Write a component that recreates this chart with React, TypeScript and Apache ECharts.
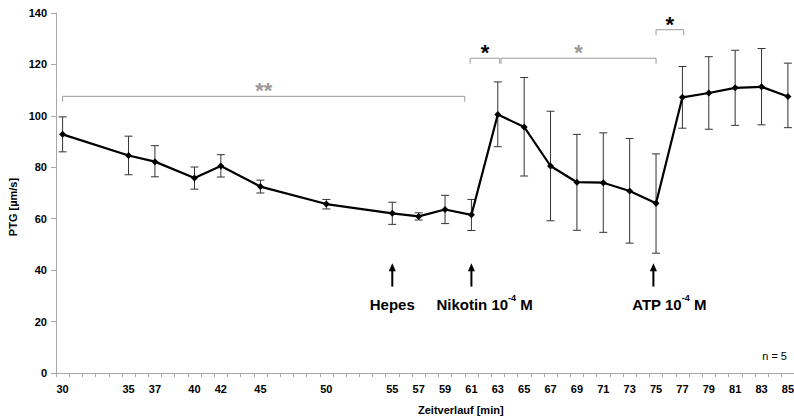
import React, { useEffect, useRef } from "react";
import * as echarts from "echarts";

// Time points (min) and PTG values (µm/s)
const times = [30, 35, 37, 40, 42, 45, 50, 55, 57, 59, 61, 63, 65, 67, 69, 71, 73, 75, 77, 79, 81, 83, 85];
const means = [92.8, 84.6, 82.2, 75.8, 80.5, 72.5, 65.7, 62.1, 60.9, 63.6, 61.5, 100.5, 95.7, 80.5, 74.2, 74.0, 70.8, 66.0, 107.2, 108.9, 110.9, 111.3, 107.5];
const upper = [99.6, 92.1, 88.4, 80.1, 84.9, 75.0, 67.5, 66.4, 62.3, 69.1, 67.5, 113.2, 114.9, 101.8, 92.8, 93.4, 91.2, 85.2, 119.2, 123.0, 125.5, 126.2, 120.5];
const lower = [86.0, 77.1, 76.3, 71.5, 76.2, 70.0, 63.8, 57.8, 59.5, 58.1, 55.4, 88.0, 76.6, 59.2, 55.5, 54.7, 50.5, 46.6, 95.2, 94.8, 96.3, 96.5, 95.4];

// Labeled x ticks
const xTickLabels = [30, 35, 37, 40, 42, 45, 50, 55, 57, 59, 61, 63, 65, 67, 69, 71, 73, 75, 77, 79, 81, 83, 85];

// Significance brackets
const bracketFrom = [30, 60.9, 63.25, 75.0];
const bracketTo = [60.5, 63.15, 75.0, 77.1];
const bracketLevel = [107.6, 122.4, 122.4, 133.5];
const bracketMark = ["**", "*", "*", "*"];

// Treatment annotations
const annotArrowX = [55, 61, 74.8];
const annotLabelX = [55, 62, 76];
const annotText = ["{b|Hepes}", "{b|Nikotin 10}{s|-4}{b| M}", "{b|ATP 10}{s|-4}{b| M}"];
const annotArrowTop = 42.7;
const annotArrowBottom = 33.6;
const annotLabelY = 27.3;

const FONT = "'Liberation Sans', Arial, Helvetica, sans-serif";
const markColors = ["#9a9a9a", "#000000", "#9a9a9a", "#000000"];
const AXIS_GRAY = "#a8a8a8";

export default function App() {
  const ref = useRef<HTMLDivElement>(null);
  useEffect(() => {
    if (!ref.current) return;
    const chart = echarts.init(ref.current, null, { renderer: "svg" });
    const xTicks: number[] = [];
    for (let v = 29.5; v <= 85.5; v += 1) xTicks.push(v);

    const option: any = {
      animation: false,
      backgroundColor: "#ffffff",
      grid: { left: 56, top: 13, width: 738.5, bottom: 43, containLabel: false, outerBoundsMode: "none" },
      xAxis: {
        type: "value",
        min: 29.5,
        max: 85.5,
        axisLine: { show: true, lineStyle: { color: AXIS_GRAY, width: 1 } },
        axisTick: { show: true, customValues: xTicks, length: 4, lineStyle: { color: AXIS_GRAY } },
        axisLabel: {
          customValues: xTickLabels,
          fontFamily: FONT,
          fontWeight: "bold",
          fontSize: 11,
          color: "#000",
          margin: 10,
          hideOverlap: false,
        },
        splitLine: { show: false },
      },
      yAxis: {
        type: "value",
        min: 0,
        max: 140,
        interval: 20,
        axisLine: { show: true, lineStyle: { color: AXIS_GRAY, width: 1 } },
        axisTick: { show: true, length: 5, lineStyle: { color: AXIS_GRAY } },
        axisLabel: { fontFamily: FONT, fontWeight: "bold", fontSize: 11, color: "#000", margin: 9 },
        splitLine: { show: false },
      },
      graphic: [
        {
          type: "text",
          x: 13,
          y: 207,
          rotation: Math.PI / 2,
          style: {
            text: "PTG [µm/s]",
            font: `bold 11px ${FONT}`,
            fill: "#000",
            align: "center",
            verticalAlign: "middle",
          },
        },
        {
          type: "text",
          x: 418,
          y: 410,
          style: {
            text: "Zeitverlauf [min]",
            font: `bold 11px ${FONT}`,
            fill: "#000",
            align: "left",
            verticalAlign: "middle",
          },
        },
        {
          type: "text",
          x: 787,
          y: 356,
          style: {
            text: "n = 5",
            font: `11px ${FONT}`,
            fill: "#000",
            align: "right",
            verticalAlign: "middle",
          },
        },
      ],
      series: [
        {
          type: "custom",
          name: "errors",
          z: 2,
          data: times.map((t, i) => [t, lower[i], upper[i]]),
          renderItem: (params: any, api: any) => {
            const x = api.value(0);
            const pLo = api.coord([x, api.value(1)]);
            const pHi = api.coord([x, api.value(2)]);
            const hw = 4;
            const st = { stroke: "#333", lineWidth: 1 };
            return {
              type: "group",
              children: [
                { type: "line", shape: { x1: pLo[0], y1: pLo[1], x2: pHi[0], y2: pHi[1] }, style: st },
                { type: "line", shape: { x1: pHi[0] - hw, y1: pHi[1], x2: pHi[0] + hw, y2: pHi[1] }, style: st },
                { type: "line", shape: { x1: pLo[0] - hw, y1: pLo[1], x2: pLo[0] + hw, y2: pLo[1] }, style: st },
              ],
            };
          },
        },
        {
          type: "line",
          name: "PTG",
          z: 3,
          data: times.map((t, i) => [t, means[i]]),
          symbol: "diamond",
          symbolSize: 7,
          lineStyle: { color: "#000", width: 2.2 },
          itemStyle: { color: "#000" },
        },
        {
          type: "custom",
          name: "brackets",
          z: 4,
          data: bracketFrom.map((f, i) => [f, bracketTo[i], bracketLevel[i], i]),
          renderItem: (params: any, api: any) => {
            const i = api.value(3);
            const a = api.coord([api.value(0), api.value(2)]);
            const b = api.coord([api.value(1), api.value(2)]);
            const leg = 5.5;
            const st = { stroke: "#9a9a9a", lineWidth: 1, fill: null };
            return {
              type: "group",
              children: [
                {
                  type: "polyline",
                  shape: { points: [[a[0], a[1] + leg], [a[0], a[1]], [b[0], b[1]], [b[0], b[1] + leg]] },
                  style: st,
                },
                {
                  type: "text",
                  x: (a[0] + b[0]) / 2,
                  y: a[1] - 5.5,
                  style: {
                    text: bracketMark[i],
                    font: `bold 22px ${FONT}`,
                    fill: markColors[i],
                    align: "center",
                    verticalAlign: "middle",
                  },
                },
              ],
            };
          },
        },
        {
          type: "custom",
          name: "annotations",
          z: 4,
          data: annotArrowX.map((x, i) => [x, annotLabelX[i], i]),
          renderItem: (params: any, api: any) => {
            const i = api.value(2);
            const top = api.coord([api.value(0), annotArrowTop]);
            const bot = api.coord([api.value(0), annotArrowBottom]);
            const lab = api.coord([api.value(1), annotLabelY]);
            return {
              type: "group",
              children: [
                {
                  type: "line",
                  shape: { x1: bot[0], y1: bot[1], x2: top[0], y2: top[1] + 6 },
                  style: { stroke: "#000", lineWidth: 2 },
                },
                {
                  type: "polygon",
                  shape: { points: [[top[0], top[1]], [top[0] - 3.5, top[1] + 8], [top[0] + 3.5, top[1] + 8]] },
                  style: { fill: "#000" },
                },
                {
                  type: "text",
                  x: lab[0],
                  y: lab[1],
                  style: {
                    text: annotText[i],
                    align: "center",
                    verticalAlign: "middle",
                    rich: {
                      b: { font: `bold 15px ${FONT}`, fill: "#000", lineHeight: 18, verticalAlign: "bottom" },
                      s: { font: `bold 9px ${FONT}`, fill: "#000", lineHeight: 18, verticalAlign: "top", padding: [0, 0, 0, 0] },
                    },
                  },
                },
              ],
            };
          },
        },
      ],
    };
    chart.setOption(option);
    return () => chart.dispose();
  }, []);
  return (
    <div
      ref={ref}
      style={{ position: "fixed", left: 0, top: 0, width: 794, height: 416, background: "#fff" }}
    />
  );
}
